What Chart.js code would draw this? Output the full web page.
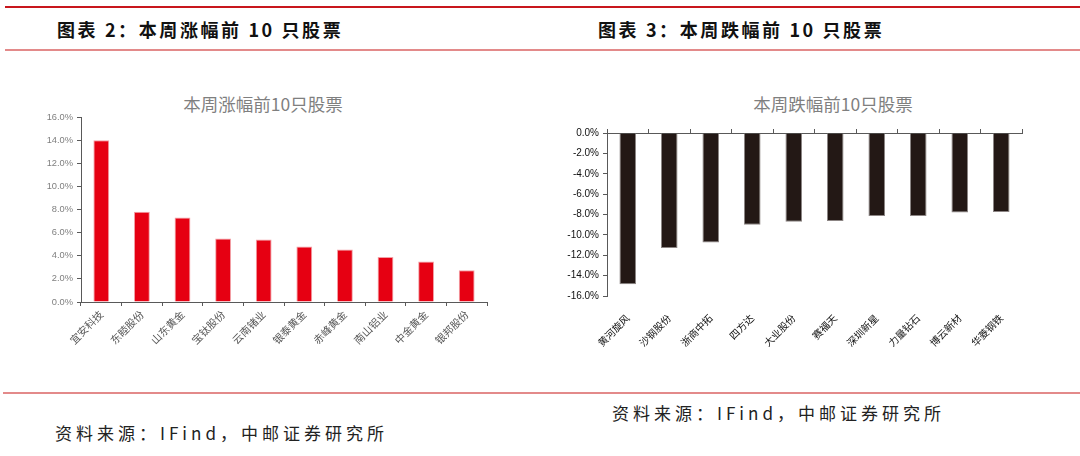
<!DOCTYPE html>
<html lang="zh">
  <head>
    <meta charset="UTF-8" />
    <title>本周涨跌幅前10只股票</title>
    <script src="https://cdn.jsdelivr.net/npm/chart.js"></script>
    <style>
      body {
        margin: 0;
        width: 1080px;
        height: 456px;
        background: #fff;
        position: relative;
        overflow: hidden;
        font-family: "Noto Sans CJK SC", sans-serif;
      }
      .rule {
        position: absolute;
        height: 2px;
      }
      .head {
        position: absolute;
        top: 19px;
        font-size: 18px;
        line-height: 21px;
        font-weight: bold;
        letter-spacing: 2.6px;
        color: #111;
      }
      .src {
        position: absolute;
        font-size: 17px;
        line-height: 20px;
        letter-spacing: 4px;
        color: #222;
      }
      .ctitle {
        position: absolute;
        top: 94px;
        width: 300px;
        text-align: center;
        font-size: 17.5px;
        line-height: 20px;
        color: #7f7f7f;
      }
      .box {
        position: absolute;
      }
    </style>
  </head>
  <body>
    <div class="rule" style="top: 6px; left: 5px; width: 1075px; background: #c8161d"></div>
    <div class="rule" style="top: 49px; left: 5px; width: 1075px; background: #e38a8a"></div>
    <div class="rule" style="top: 392px; left: 3px; width: 1077px; background: #e38a8a"></div>

    <div class="head" style="left: 57px">图表 2：本周涨幅前 10 只股票</div>
    <div class="head" style="left: 598px">图表 3：本周跌幅前 10 只股票</div>

    <div class="ctitle" style="left: 113px">本周涨幅前10只股票</div>
    <div class="ctitle" style="left: 683px">本周跌幅前10只股票</div>

    <div class="box" style="left: 40px; top: 88px; width: 460px; height: 272px">
      <canvas id="upChart"></canvas>
    </div>
    <div class="box" style="left: 550px; top: 88px; width: 490px; height: 272px">
      <canvas id="downChart"></canvas>
    </div>

    <div class="src" style="left: 55px; top: 423px">资料来源：IFind，中邮证券研究所</div>
    <div class="src" style="left: 612px; top: 403px">资料来源：IFind，中邮证券研究所</div>

    <script>
      // 涨幅前10
      const upNames = ["宜安科技", "东睦股份", "山东黄金", "宝钛股份", "云南锗业",
        "银泰黄金", "赤峰黄金", "南山铝业", "中金黄金", "银邦股份"];
      const upValues = [14.0, 7.8, 7.3, 5.5, 5.4, 4.8, 4.55, 3.9, 3.5, 2.75];

      // 跌幅前10
      const downNames = ["黄河旋风", "沙钢股份", "浙商中拓", "四方达", "大业股份",
        "赛福天", "深圳新星", "力量钻石", "博云新材", "华菱钢铁"];
      const downValues = [-14.85, -11.3, -10.75, -9.0, -8.7, -8.65, -8.15, -8.15, -7.8, -7.75];

      const pct = (v) => Number(v).toFixed(1) + "%";

      new Chart(document.getElementById("upChart"), {
        type: "bar",
        data: {
          labels: upNames,
          datasets: [
            {
              data: upValues,
              backgroundColor: "#e60012",
              borderColor: "#f2a0a6",
              borderWidth: 1,
              categoryPercentage: 1,
              barPercentage: 0.39,
            },
          ],
        },
        options: {
          responsive: true,
          maintainAspectRatio: false,
          animation: false,
          layout: { padding: { top: 29, right: 13, left: 0, bottom: 0 } },
          plugins: { legend: { display: false }, tooltip: { enabled: false } },
          scales: {
            x: {
              afterFit: (s) => { s.height = 58; },
              border: { color: "#595959", width: 1 },
              grid: { display: true, drawOnChartArea: false, offset: true, tickLength: 4, color: "#595959" },
              ticks: {
                minRotation: 45,
                maxRotation: 45,
                padding: 2,
                color: "#595959",
                font: { family: "Noto Sans CJK SC", size: 10.5 },
              },
            },
            y: {
              min: 0,
              max: 16,
              afterFit: (s) => { s.width = 41; },
              border: { color: "#595959", width: 1 },
              grid: { display: true, drawOnChartArea: false, tickLength: 4, color: "#595959" },
              ticks: {
                stepSize: 2,
                padding: 4,
                color: "#7f7f7f",
                font: { family: "Liberation Sans", size: 9.3 },
                callback: pct,
              },
            },
          },
        },
      });

      new Chart(document.getElementById("downChart"), {
        type: "bar",
        data: {
          labels: downNames,
          datasets: [
            {
              data: downValues,
              backgroundColor: "#231815",
              borderColor: "#8c8584",
              borderWidth: 1,
              categoryPercentage: 1,
              barPercentage: 0.4,
            },
          ],
        },
        options: {
          responsive: true,
          maintainAspectRatio: false,
          animation: false,
          layout: { padding: { top: 45, right: 18, left: 0, bottom: 0 } },
          plugins: { legend: { display: false }, tooltip: { enabled: false } },
          scales: {
            // zero line with upward tick marks
            xTop: {
              type: "category",
              position: "top",
              labels: downNames,
              afterFit: (s) => { s.height = 0; },
              border: { color: "#595959", width: 1 },
              grid: { display: true, drawOnChartArea: false, offset: true, tickLength: 4, color: "#595959" },
              ticks: { display: false },
            },
            x: {
              position: "bottom",
              afterFit: (s) => { s.height = 64; },
              border: { display: false },
              grid: { display: false },
              ticks: {
                minRotation: 45,
                maxRotation: 45,
                padding: 8,
                color: "#111",
                font: { family: "Noto Sans CJK SC", size: 10 },
              },
            },
            y: {
              min: -16,
              max: 0,
              afterFit: (s) => { s.width = 57; },
              border: { color: "#595959", width: 1 },
              grid: { display: true, drawOnChartArea: false, tickLength: 4, color: "#595959" },
              ticks: {
                stepSize: 2,
                padding: 4,
                color: "#111",
                font: { family: "Liberation Sans", size: 10 },
                callback: pct,
              },
            },
          },
        },
      });
    </script>
  </body>
</html>
